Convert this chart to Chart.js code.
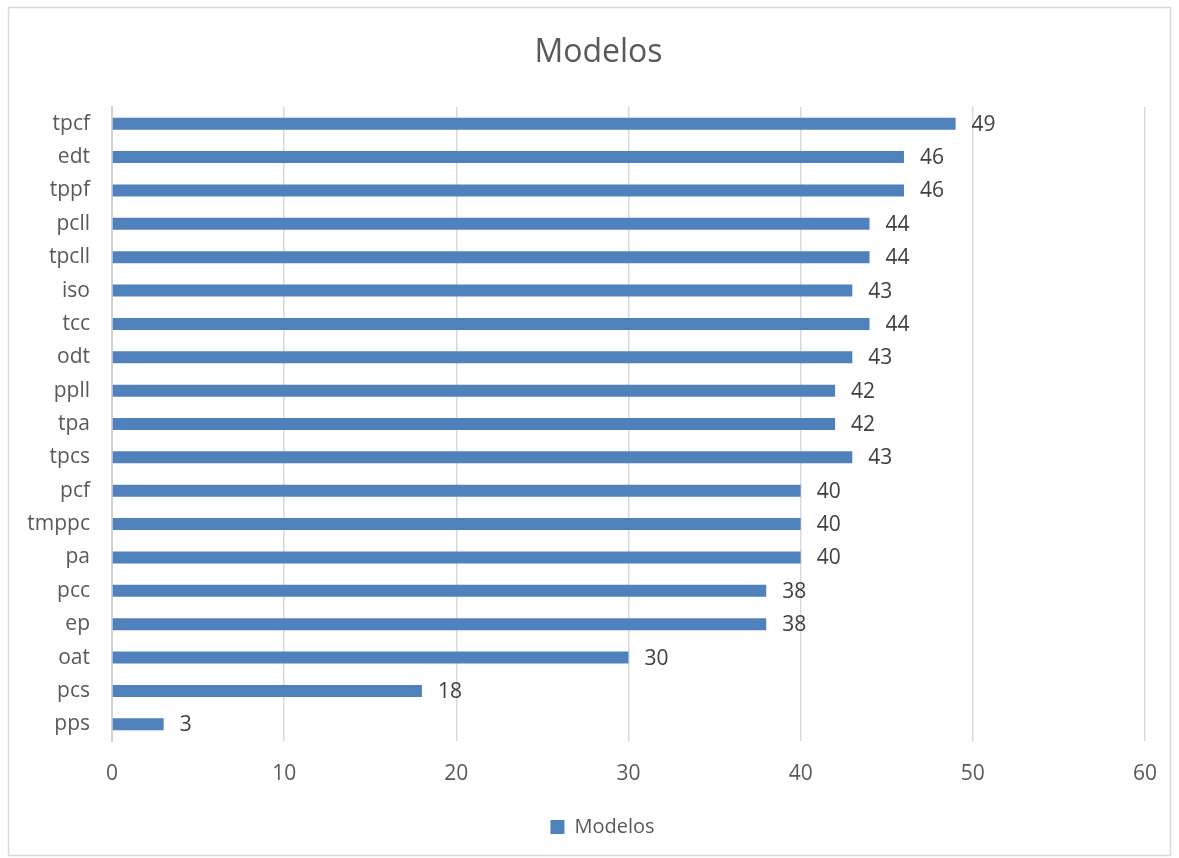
<!DOCTYPE html>
<html>
<head>
<meta charset="utf-8">
<script src="https://cdn.jsdelivr.net/npm/chart.js@4"></script>
<style>
  html, body { margin: 0; padding: 0; background: #fff; }
  #wrap { width: 1179px; height: 858px; }
</style>
</head>
<body>
<div id="wrap"><canvas id="chart-modelos" width="1179" height="858"></canvas></div>
<script>
// Categories top to bottom
const CATEGORIES = ['tpcf','edt','tppf','pcll','tpcll','iso','tcc','odt','ppll','tpa','tpcs','pcf','tmppc','pa','pcc','ep','oat','pcs','pps'];
const MODELOS = [49, 46, 46, 44, 44, 43, 44, 43, 42, 42, 43, 40, 40, 40, 38, 38, 30, 18, 3];
const X_MIN = 0, X_MAX = 60, X_STEP = 10;

const FONT = "'Open Sans', 'Liberation Sans', sans-serif";
const BAR_COLOR = '#4f81bd';

// frame round the whole chart, like the office chart border
const framePlugin = {
    id: 'frame',
    beforeDraw(chart) {
        const ctx = chart.ctx;
        ctx.save();
        ctx.fillStyle = '#fff';
        ctx.fillRect(0, 0, chart.width, chart.height);
        ctx.strokeStyle = '#d9d9d9';
        ctx.lineWidth = 1.5;
        ctx.strokeRect(8.5, 7.5, 1162, 848);
        ctx.restore();
    }
};

// title and legend sit centred on the whole frame, not on the padded box
const centreBoxes = {
    id: 'centreBoxes',
    afterLayout(chart) {
        if (chart.titleBlock) { chart.titleBlock.left += 26; chart.titleBlock.right += 26; }
        if (chart.legend) { chart.legend.left += 30; chart.legend.right += 30; }
    }
};

// value labels at the end of each bar
const valueLabels = {
    id: 'valueLabels',
    afterDatasetsDraw(chart) {
        const ctx = chart.ctx;
        ctx.save();
        ctx.font = '21px ' + FONT;
        ctx.fillStyle = '#404040';
        ctx.textAlign = 'left';
        ctx.textBaseline = 'middle';
        chart.getDatasetMeta(0).data.forEach((bar, i) => {
            ctx.fillText(MODELOS[i], bar.x + 16, bar.y + 1);
        });
        ctx.restore();
    }
};

new Chart(document.getElementById('chart-modelos'), {
    type: 'bar',
    data: {
        labels: CATEGORIES,
        datasets: [{
            label: 'Modelos',
            data: MODELOS,
            backgroundColor: BAR_COLOR,
            borderWidth: 0,
            barPercentage: 0.36,
            categoryPercentage: 1
        }]
    },
    options: {
        indexAxis: 'y',
        responsive: false,
        animation: false,
        layout: { padding: { left: 0, right: 34, top: 0, bottom: 11 } },
        plugins: {
            title: {
                display: true,
                text: 'Modelos',
                color: '#595959',
                font: { family: FONT, size: 32, weight: 'normal' },
                padding: { top: 34, bottom: 34.6 }
            },
            legend: {
                position: 'bottom',
                labels: {
                    color: '#595959',
                    font: { family: FONT, size: 20 },
                    boxWidth: 14,
                    boxHeight: 14,
                    padding: 10
                }
            },
            tooltip: { enabled: false }
        },
        scales: {
            x: {
                min: X_MIN,
                max: X_MAX,
                ticks: { stepSize: X_STEP, color: '#595959', font: { family: FONT, size: 21 }, padding: 20 },
                grid: { color: '#d9d9d9', lineWidth: 1.5, drawTicks: false },
                border: { display: false },
                afterFit(scale) { scale.height = 66; }
            },
            y: {
                ticks: { color: '#595959', font: { family: FONT, size: 21 }, padding: 22 },
                grid: { display: false, drawTicks: false },
                border: { display: true, color: '#d0d0d0', width: 2 },
                afterFit(scale) { scale.width = 112; }
            }
        }
    },
    plugins: [framePlugin, centreBoxes, valueLabels]
});
</script>
</body>
</html>
